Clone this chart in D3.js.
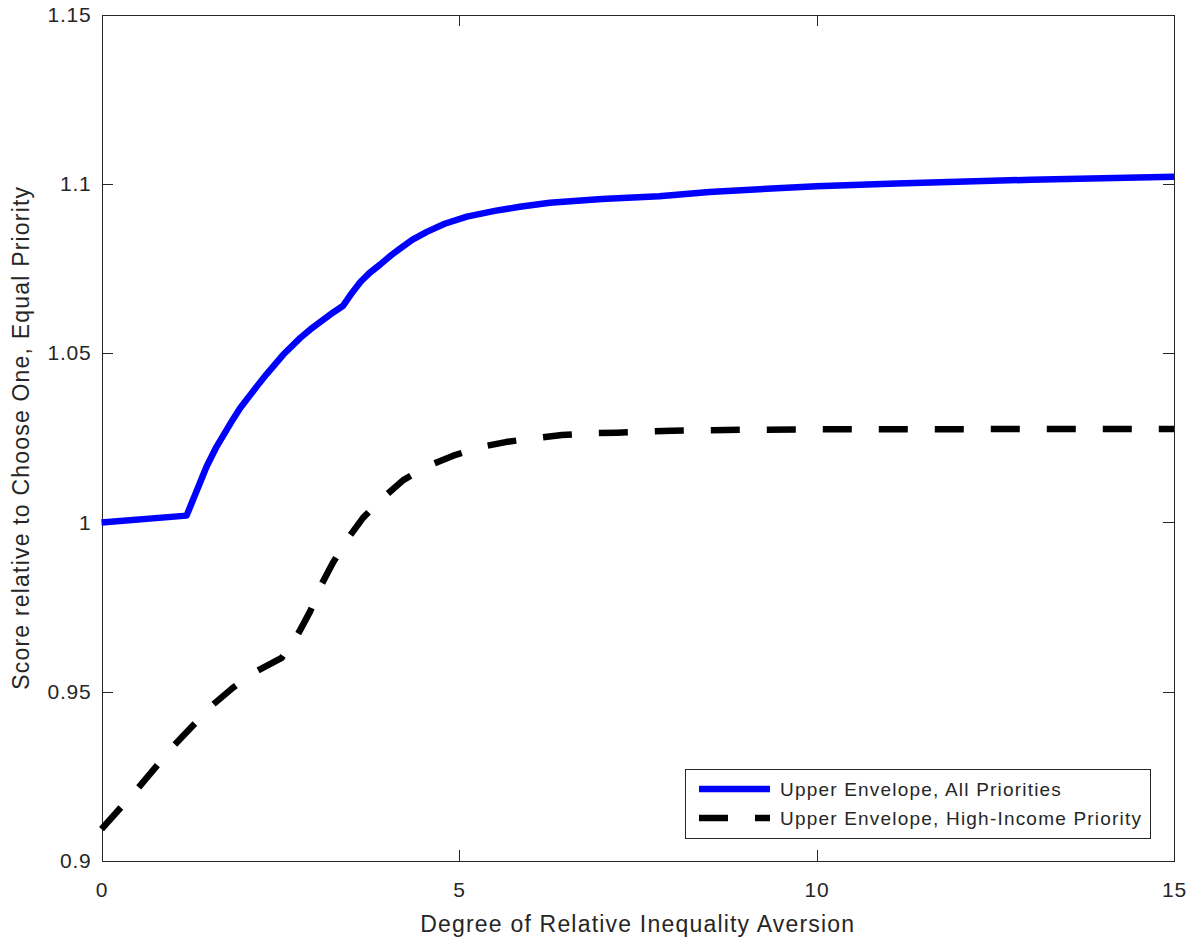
<!DOCTYPE html>
<html>

<head>
  <meta charset="UTF-8">
  <title>Upper envelope scores</title>
  <style>
    body {
      margin: 0;
      background: #fff;
    }

    text {
      font-family: "Liberation Sans", Arial, sans-serif;
      fill: #262626;
    }

    .axis path,
    .axis line {
      stroke: #262626;
      stroke-width: 1px;
      shape-rendering: crispEdges;
    }

    .axis text {
      font-size: 21px;
      letter-spacing: 0.8px;
    }

    .line {
      fill: none;
      stroke-width: 6.5px;
      stroke-linejoin: round;
      stroke-linecap: butt;
    }
  </style>
</head>

<body>
  <svg width="1195" height="942" id="chart"></svg>
  <script src="https://cdn.jsdelivr.net/npm/d3@7"></script>
  <script>
    // x = degree of relative inequality aversion, y = score
    var allX = [0, 1.19, 1.47, 1.61, 1.84, 1.94, 2.17, 2.31, 2.54, 2.78, 2.92, 3.24, 3.38, 3.5, 3.62, 3.75, 3.9, 4.05, 4.17, 4.35, 4.55, 4.8, 5.11, 5.5, 5.85, 6.27, 7, 7.8, 8.5, 10, 11.12, 13, 15];
    var allY = [1.0000, 1.0020, 1.0165, 1.0224, 1.0305, 1.0338, 1.0401, 1.0438, 1.0495, 1.0545, 1.0570, 1.0620, 1.0640, 1.0677, 1.0710, 1.0737, 1.0762, 1.0789, 1.0808, 1.0835, 1.0858, 1.0882, 1.0903, 1.0920, 1.0932, 1.0944, 1.0955, 1.0963, 1.0976, 1.0993, 1.1001, 1.1012, 1.1021];

    var highX = [0, 0.49, 1.0, 1.56, 1.84, 2.17, 2.52, 2.72, 2.92, 3.06, 3.24, 3.43, 3.66, 3.94, 4.22, 4.55, 4.92, 5.29, 5.67, 6.04, 6.44, 6.81, 7.21, 7.58, 7.98, 8.74, 10, 15];
    var highY = [0.9094, 0.9210, 0.9338, 0.9462, 0.9512, 0.9561, 0.9600, 0.9659, 0.9738, 0.9810, 0.9882, 0.9948, 1.0014, 1.0073, 1.0125, 1.0165, 1.0197, 1.0222, 1.0238, 1.0248, 1.0258, 1.0263, 1.0265, 1.0268, 1.0271, 1.0273, 1.0275, 1.0276];

    var xTicks = [0, 5, 10, 15];
    var yTicks = [0.9, 0.95, 1, 1.05, 1.1, 1.15];
    var yTickLabels = ["0.9", "0.95", "1", "1.05", "1.1", "1.15"];
    var seriesNames = ["Upper Envelope, All Priorities", "Upper Envelope, High-Income Priority"];

    var svg = d3.select("#chart"),
      margin = { top: 14.5, right: 21, bottom: 81, left: 101.5 },
      width = svg.attr("width") - margin.left - margin.right,
      height = svg.attr("height") - margin.top - margin.bottom;

    var g = svg.append("g").attr("transform", "translate(" + margin.left + "," + margin.top + ")");

    var x = d3.scaleLinear().domain([0, 15]).range([0, width]),
      y = d3.scaleLinear().domain([0.9, 1.15]).range([height, 0]);

    var series = [
      { id: seriesNames[0], color: "#0000ff", dash: null, values: allX.map(function (v, i) { return { x: v, y: allY[i] }; }) },
      { id: seriesNames[1], color: "#000000", dash: "29,27", values: highX.map(function (v, i) { return { x: v, y: highY[i] }; }) }
    ];

    // axes: ticks point inward on all four sides
    g.append("g").attr("class", "axis")
      .attr("transform", "translate(0," + height + ")")
      .call(d3.axisBottom(x).tickValues(xTicks).tickSizeInner(-11).tickSizeOuter(0).tickPadding(21));
    g.append("g").attr("class", "axis")
      .call(d3.axisTop(x).tickValues(xTicks).tickSizeInner(-11).tickSizeOuter(0).tickFormat(""));
    g.append("g").attr("class", "axis")
      .call(d3.axisLeft(y).tickValues(yTicks).tickSizeInner(-11).tickSizeOuter(0).tickPadding(10)
        .tickFormat(function (d, i) { return yTickLabels[i]; }));
    g.append("g").attr("class", "axis")
      .attr("transform", "translate(" + width + ",0)")
      .call(d3.axisRight(y).tickValues(yTicks).tickSizeInner(-11).tickSizeOuter(0).tickFormat(""));

    g.selectAll(".axis .domain").attr("stroke", "#262626");
    g.selectAll(".axis text").attr("fill", "#262626");

    var line = d3.line()
      .curve(d3.curveLinear)
      .x(function (d) { return x(d.x); })
      .y(function (d) { return y(d.y); });

    g.selectAll(".line").data(series).enter()
      .append("path")
      .attr("class", "line")
      .attr("stroke", function (d) { return d.color; })
      .attr("stroke-dasharray", function (d) { return d.dash; })
      .attr("d", function (d) { return line(d.values); });

    // axis titles
    svg.append("text")
      .attr("x", margin.left + width / 2)
      .attr("y", 932)
      .attr("text-anchor", "middle")
      .style("font-size", "23px")
      .style("letter-spacing", "1.2px")
      .text("Degree of Relative Inequality Aversion");

    svg.append("text")
      .attr("transform", "translate(29," + (margin.top + height / 2) + ") rotate(-90)")
      .attr("text-anchor", "middle")
      .style("font-size", "23px")
      .style("letter-spacing", "1.2px")
      .text("Score relative to Choose One, Equal Priority");

    // legend
    var lg = svg.append("g").attr("transform", "translate(685,769)");
    lg.append("rect")
      .attr("width", 465).attr("height", 69)
      .attr("fill", "#fff").attr("stroke", "#262626").attr("stroke-width", 1)
      .attr("shape-rendering", "crispEdges");

    var items = lg.selectAll(".legenditem").data(series).enter()
      .append("g")
      .attr("class", "legenditem")
      .attr("transform", function (d, i) { return "translate(0," + (20 + i * 29) + ")"; });

    items.append("line")
      .attr("x1", 14).attr("x2", 85)
      .attr("stroke", function (d) { return d.color; })
      .attr("stroke-width", 6.5)
      .attr("stroke-dasharray", function (d) { return d.dash; });

    items.append("text")
      .attr("x", 95)
      .attr("dy", "0.35em")
      .style("font-size", "19px")
      .style("letter-spacing", "1.2px")
      .text(function (d) { return d.id; });
  </script>
</body>

</html>
